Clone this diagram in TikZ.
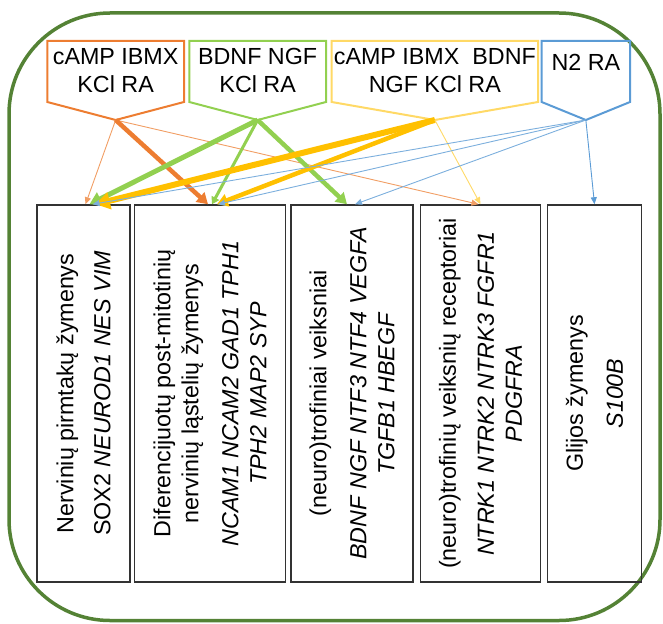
\documentclass[tikz,border=0pt]{standalone}
\usepackage{fontspec}
\setmainfont{Liberation Sans}
\usetikzlibrary{arrows.meta}
\definecolor{frgreen}{HTML}{548235}
\definecolor{corange}{HTML}{ED7D31}
\definecolor{cgreen}{HTML}{92D050}
\definecolor{cgold}{HTML}{FFC000}
\definecolor{lgold}{HTML}{FFD966}
\definecolor{cblue}{HTML}{5B9BD5}
\tikzset{lbl/.style={font=\fontsize{23.3}{28}\selectfont, align=center, inner sep=0pt},
  tgtbox/.style={draw=black!80, line width=1.5pt, minimum height=377pt, inner sep=0pt},
  thinar/.style={line width=0.9pt, -{Triangle[length=7pt,width=6pt]}},
  fatar/.style={line width=#1, -{Triangle[length=0pt 2.4,width=0pt 2.8]}}}
\newcommand{\srcbox}[6]{\draw[#2, line width=2pt] (#3,41) -- (#4,41) -- (#4,102) -- ({(#3+#4)/2},120) -- (#3,102) -- cycle;
  \node[lbl] (#1) at ({(#3+#4)/2},#6) {#5};
  \coordinate (#1tip) at ({(#3+#4)/2},120);}

\begin{document}
\begin{tikzpicture}[x=1pt, y=-1pt]
\useasboundingbox (0,0) rectangle (663,623);
\draw[frgreen, line width=3.5pt, rounded corners=101pt] (9,13) rectangle (660,620.5);
\srcbox{camp}{corange}{47.3}{184}{cAMP IBMX\\KCl RA}{70.6}
\srcbox{bdnf}{cgreen}{189.3}{326}{BDNF NGF\\KCl RA}{70.6}
\srcbox{mix}{lgold}{331.7}{538}{cAMP IBMX\ \ BDNF\\NGF KCl RA}{70.6}
\srcbox{ntwo}{cblue}{541.7}{630}{N2 RA}{62.6}
\node[tgtbox, minimum width=92.6pt] (b1) at (83.5,393.5) {};
\node[tgtbox, minimum width=151pt] (b2) at (210,393.5) {};
\node[tgtbox, minimum width=122pt] (b3) at (352,393.5) {};
\node[tgtbox, minimum width=120pt] (b4) at (480.5,393.5) {};
\node[tgtbox, minimum width=94pt] (b5) at (594.5,393.5) {};
\node[lbl, rotate=90] (t1) at (b1) {Nervinių pirmtakų žymenys\\[9pt]SOX2 \textit{NEUROD1 NES VIM}};
\node[lbl, rotate=90] (t2) at (b2) {Diferencijuotų post-mitotinių\\nervinių ląstelių žymenys\\[12pt]\textit{NCAM1 NCAM2 GAD1 TPH1}\\\textit{TPH2 MAP2 SYP}};
\node[lbl, rotate=90] (t3) at (b3) {(neuro)trofiniai veiksniai\\[12pt]\textit{BDNF NGF NTF3 NTF4 VEGFA}\\\textit{TGFB1 HBEGF}};
\node[lbl, rotate=90] (t4) at (b4) {(neuro)trofinių veiksnių receptoriai\\[10pt]\textit{NTRK1 NTRK2 NTRK3 FGFR1}\\\textit{PDGFRA}};
\node[lbl, rotate=90] (t5) at (b5) {Glijos žymenys\\[12pt]\textit{S100B}};
\draw[thinar, corange!75] (camptip) -- ([xshift=2pt]b1.north);
\draw[thinar, corange!75] (camptip) -- ([xshift=-2pt]b4.north);
\draw[fatar=4.5pt, corange] (camptip) -- ([xshift=-2pt]b2.north);
\draw[fatar=5pt, cgreen] (bdnftip) -- ([xshift=6pt]b1.north);
\draw[fatar=3pt, cgreen] (bdnftip) -- ([xshift=2pt]b2.north);
\draw[fatar=4.5pt, cgreen] (bdnftip) -- ([xshift=-5pt]b3.north);
\draw[fatar=6pt, cgold] (mixtip) -- ([xshift=12pt]b1.north);
\draw[fatar=4.5pt, cgold] (mixtip) -- ([xshift=7pt]b2.north);
\draw[thinar, lgold] (mixtip) -- (b4.north);
\draw[thinar, cblue!80] (ntwotip) -- ([xshift=9pt]b1.north);
\draw[thinar, cblue!80] (ntwotip) -- ([xshift=8pt]b2.north);
\draw[thinar, cblue!80] (ntwotip) -- ([xshift=3pt]b3.north);
\draw[thinar, cblue] (ntwotip) -- (b5.north);
\end{tikzpicture}
\end{document}
